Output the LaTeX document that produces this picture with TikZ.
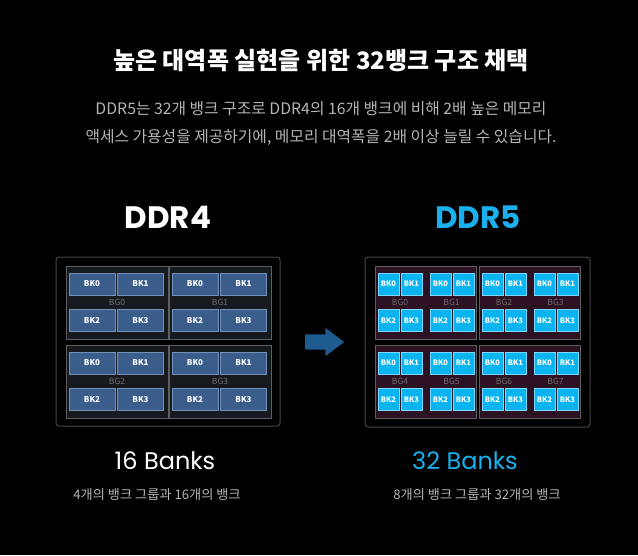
\documentclass[tikz,border=0pt]{standalone}
\usepackage{fontspec}
\setmainfont{Noto Sans CJK KR}
\newfontfamily\popfont{Poppins}
\usetikzlibrary{shapes.arrows}

\definecolor{subgray}{HTML}{B4B4B4}
\definecolor{ddrblue}{HTML}{1AB0EE}
\definecolor{arrowblue}{HTML}{1D5A8E}
\definecolor{bkfour}{HTML}{3A5D8C}
\definecolor{bkfourline}{HTML}{7391B8}
\definecolor{bkfive}{HTML}{0AB4F0}
\definecolor{bkfiveline}{HTML}{7AD8FF}
\definecolor{grpfour}{HTML}{161A1F}
\definecolor{grpfive}{HTML}{2C1222}
\definecolor{grpline}{HTML}{5E5E5E}
\definecolor{boxline}{HTML}{464646}
\definecolor{bgtext}{HTML}{6E6E6E}

\tikzset{
  chip/.style={draw=boxline,line width=1pt,rounded corners=3pt,inner sep=0pt},
  group4/.style={draw=grpline,fill=grpfour,line width=0.8pt,inner sep=0pt,minimum width=102,minimum height=73,anchor=north west},
  group5/.style={draw=grpline,fill=grpfive,line width=0.8pt,inner sep=0pt,minimum width=101,minimum height=73,anchor=north west},
  bank4/.style={draw=bkfourline,fill=bkfour,line width=0.6pt,inner sep=0pt,minimum width=46,minimum height=22,text=white,font=\bfseries\fontsize{8}{9}\selectfont},
  bank5/.style={draw=bkfiveline,fill=bkfive,line width=0.6pt,inner sep=0pt,minimum width=21,minimum height=22,text=white,font=\bfseries\fontsize{7.5}{8}\selectfont},
  bglabel/.style={text=bgtext,inner sep=0pt,font=\fontsize{8.5}{9}\selectfont},
  heading/.style={inner sep=0pt,font=\popfont\bfseries\fontsize{31}{33}\selectfont},
  banks/.style={inner sep=0pt,font=\popfont\fontsize{24}{26}\selectfont},
  note/.style={inner sep=0pt,text=subgray,font=\fontsize{13.2}{15}\selectfont}
}

\begin{document}
\begin{tikzpicture}[x=1pt,y=-1pt]
	\useasboundingbox[fill=black] (0,0) rectangle (638,555);

	\node[inner sep=0pt,text=white,font=\bfseries\fontsize{24}{27}\selectfont] (title) at (321,60) {높은 대역폭 실현을 위한 32뱅크 구조 채택};
	\node[inner sep=0pt,text=subgray,font=\fontsize{15.8}{17}\selectfont] (sub1) at (321,109) {DDR5는 32개 뱅크 구조로 DDR4의 16개 뱅크에 비해 2배 높은 메모리};
	\node[inner sep=0pt,text=subgray,font=\fontsize{15.8}{17}\selectfont] (sub2) at (321,137) {액세스 가용성을 제공하기에, 메모리 대역폭을 2배 이상 늘릴 수 있습니다.};

	% DDR4 side
	\node[heading,text=white] (ddr4) at (168,217) {DDR4};
	\node[chip,minimum width=224,minimum height=169] (chip4) at (168,341.5) {};
	\foreach \g/\x/\y in {0/66/266,1/169/266,2/66/345,3/169/345}{
		\node[group4] (grp4\g) at (\x,\y) {};
		\node[bglabel] (bg4\g) at (\x+51,\y+36) {BG\g};
		\node[bank4] (bk4\g a) at (\x+26,\y+18) {BK0};
		\node[bank4] (bk4\g b) at (\x+74.5,\y+18) {BK1};
		\node[bank4] (bk4\g c) at (\x+26,\y+54.5) {BK2};
		\node[bank4] (bk4\g d) at (\x+74.5,\y+54.5) {BK3};
	}
	\node[banks,text=white] (banks4) at (165,461) {16 Banks};
	\node[note] (note4) at (157,495) {4개의 뱅크 그룹과 16개의 뱅크};

	% arrow
	\node[single arrow,fill=arrowblue,inner sep=0pt,minimum height=39,minimum width=28,anchor=tail,
		single arrow head extend=6.5pt,single arrow tip angle=74,text height=15pt] (go) at (305,342) {};

	% DDR5 side
	\node[heading,text=ddrblue] (ddr5) at (478,217) {DDR5};
	\node[chip,minimum width=225,minimum height=170] (chip5) at (477.5,342) {};
	\foreach \g/\x/\y/\m/\n in {0/375/266/0/1,1/479/266/2/3,2/375/345/4/5,3/479/345/6/7}{
		\node[group5] (grp5\g) at (\x,\y) {};
		\node[bglabel] (bg5\m) at (\x+25,\y+36) {BG\m};
		\node[bglabel] (bg5\n) at (\x+76.5,\y+36) {BG\n};
		\foreach \p/\dx in {a/0,b/52}{
			\node[bank5] (bk5\g\p a) at (\x+13.5+\dx,\y+18) {BK0};
			\node[bank5] (bk5\g\p b) at (\x+36.5+\dx,\y+18) {BK1};
			\node[bank5] (bk5\g\p c) at (\x+13.5+\dx,\y+54.5) {BK2};
			\node[bank5] (bk5\g\p d) at (\x+36.5+\dx,\y+54.5) {BK3};
		}
	}
	\node[banks,text=ddrblue] (banks5) at (465,461) {32 Banks};
	\node[note] (note5) at (477,495) {8개의 뱅크 그룹과 32개의 뱅크};
\end{tikzpicture}
\end{document}
